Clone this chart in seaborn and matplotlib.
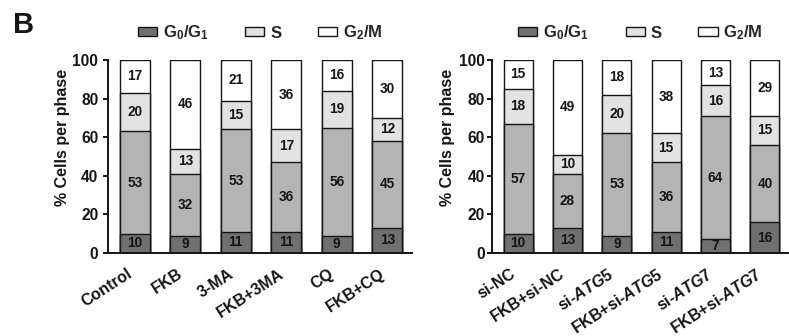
import numpy as np
import pandas as pd
import matplotlib
matplotlib.use('Agg')
import matplotlib.pyplot as plt
from matplotlib.patches import Patch
import seaborn as sns

# cell-cycle distribution (% cells per phase), bottom to top segments
left_groups = ['Control', 'FKB', '3-MA', 'FKB+3MA', 'CQ', 'FKB+CQ']
left_dark = [10, 9, 11, 11, 9, 13]
left_mid = [53, 32, 53, 36, 56, 45]
left_s = [20, 13, 15, 17, 19, 12]
left_g2m = [17, 46, 21, 36, 16, 30]

right_groups = ['si-NC', 'FKB+si-NC', 'si-$\\mathit{ATG5}$', 'FKB+si-$\\mathit{ATG5}$',
                'si-$\\mathit{ATG7}$', 'FKB+si-$\\mathit{ATG7}$']
right_dark = [10, 13, 9, 11, 7, 16]
right_mid = [57, 28, 53, 36, 64, 40]
right_s = [18, 10, 20, 15, 16, 15]
right_g2m = [15, 49, 18, 38, 13, 29]

legend_labels = ['G$_0$/G$_1$', 'S', 'G$_2$/M']

dark = '#707070'
mid = '#b4b4b4'
light = '#e2e2e2'
white = '#ffffff'
ink = '#151515'
seg_colors = [dark, mid, light, white]

sns.set_style('ticks')
plt.rcParams['font.family'] = ['Liberation Sans', 'DejaVu Sans']
plt.rcParams['font.weight'] = 'bold'
plt.rcParams['mathtext.fontset'] = 'custom'
plt.rcParams['mathtext.default'] = 'regular'
plt.rcParams['mathtext.rm'] = 'Liberation Sans:bold'
plt.rcParams['mathtext.it'] = 'Liberation Sans:italic:bold'

fig = plt.figure(figsize=(7.89, 3.36), dpi=100)
W, H = 789, 336


def panel(rect, groups, layers, tickpad):
    ax = fig.add_axes(rect)
    layers = np.array(layers)
    tops = np.cumsum(layers, axis=0)
    # draw cumulative bars from tallest to shortest so they stack
    for k in range(len(layers) - 1, -1, -1):
        df = pd.DataFrame({'group': groups, 'top': tops[k]})
        sns.barplot(data=df, x='group', y='top', order=groups, color=seg_colors[k],
                    saturation=1, width=0.59, edgecolor=ink, linewidth=1.0,
                    errorbar=None, ax=ax)
    for k in range(len(layers)):
        bottoms = tops[k] - layers[k]
        for i, v in enumerate(layers[k]):
            ax.text(i, bottoms[i] + v / 2, str(v), ha='center', va='center',
                    fontsize=9.8, fontweight='bold', color=ink)
    ax.set_xlim(-0.53, 5.49)
    ax.set_ylim(0, 100)
    ax.set_yticks([0, 20, 40, 60, 80, 100])
    ax.set_xlabel('')
    ax.set_ylabel('% Cells per phase', fontsize=11.5, fontweight='bold', color=ink)
    ax.yaxis.set_label_coords(-0.125, 0.60)
    sns.despine(ax=ax)
    for sp in ['left', 'bottom']:
        ax.spines[sp].set_linewidth(1.4)
        ax.spines[sp].set_color(ink)
    ax.tick_params(axis='y', length=3.8, width=1.4, color=ink, labelsize=11.2,
                   labelcolor=ink, pad=tickpad)
    ax.tick_params(axis='x', length=0, pad=9.5, labelsize=11.5, labelcolor=ink)
    ax.set_xticks(range(len(groups)))
    ax.set_xticklabels(groups, rotation=33, ha='right', va='top',
                       fontweight='bold')
    for lab in ax.get_yticklabels():
        lab.set_fontweight('bold')
    handles = [Patch(facecolor=c, edgecolor=ink, linewidth=1.0)
               for c in [dark, light, white]]
    ax.legend(handles, legend_labels, loc='center', bbox_to_anchor=(0.5, 1.14),
              ncol=3, frameon=False, fontsize=12, handlelength=1.15,
              handleheight=0.5, handletextpad=0.35, columnspacing=2.2,
              borderaxespad=0)
    return ax


bottom = 1 - 253 / H
height = (253 - 60) / H
panel([108 / W, bottom, (412 - 108) / W, height], left_groups,
      [left_dark, left_mid, left_s, left_g2m], 3.2)
panel([492 / W, bottom, (789 - 492) / W, height], right_groups,
      [right_dark, right_mid, right_s, right_g2m], 1.5)

fig.text(13 / W, 1 - 33 / H, 'B', fontsize=21, fontweight='bold', color=ink,
         va='baseline', ha='left')

fig.savefig('out.png', dpi=100)
plt.close(fig)
